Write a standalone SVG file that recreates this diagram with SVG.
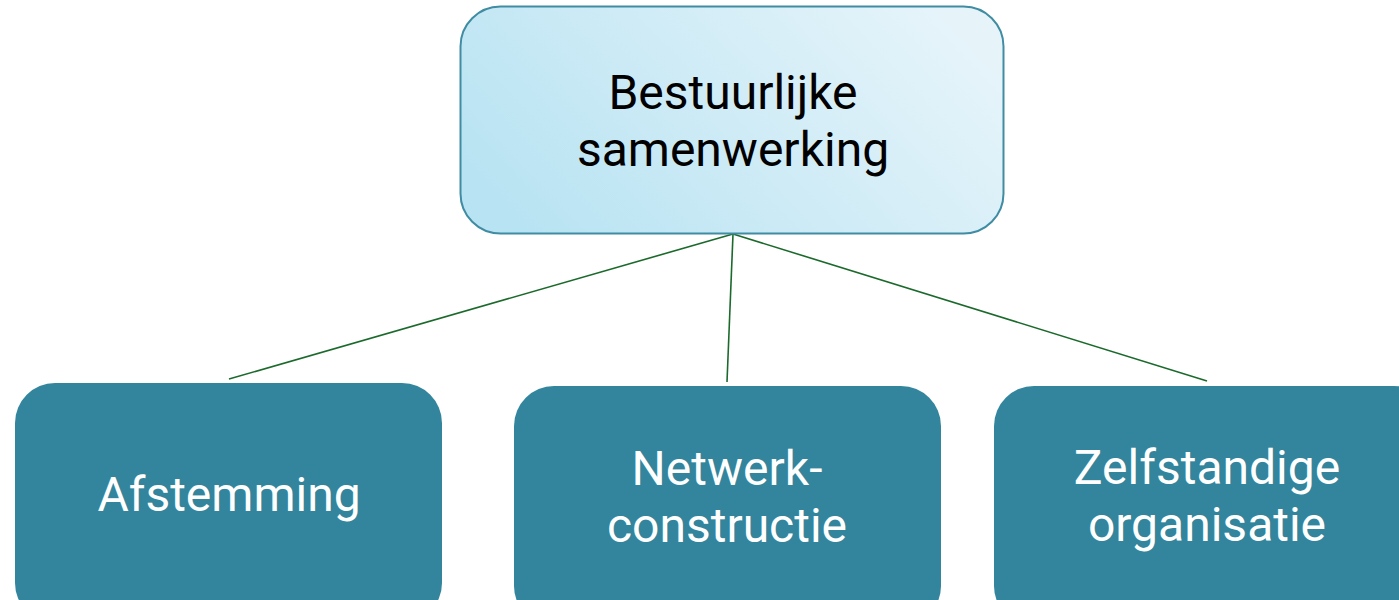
<svg xmlns="http://www.w3.org/2000/svg" width="1399" height="600" viewBox="0 0 1399 600">
<style>
.t{font-family:Roboto,"Liberation Sans",sans-serif;font-size:48px;text-anchor:middle}
.dark{fill:#000}
.light{fill:#ffffff}
.child{fill:#32859c}
.conn{stroke:#1b6a2c;stroke-width:1.6;fill:none}
</style>
<defs>
<linearGradient id="g" x1="0" y1="0.7" x2="1" y2="0.3">
<stop offset="0" stop-color="#b8e3f2"/>
<stop offset="1" stop-color="#e6f4fa"/>
</linearGradient>
</defs>
<rect width="1399" height="600" fill="#fff"/>
<g id="connectors">
<line class="conn" x1="733" y1="234" x2="229" y2="379"/>
<line class="conn" x1="733" y1="234" x2="727" y2="382"/>
<line class="conn" x1="733" y1="234" x2="1207" y2="381"/>
</g>
<g id="top">
<rect x="460.5" y="6.5" width="543" height="227" rx="40" fill="url(#g)" stroke="#3f8ca3" stroke-width="2"/>
<text class="t dark" x="733" y="109">Bestuurlijke</text>
<text class="t dark" x="733" y="166">samenwerking</text>
</g>
<g id="afstemming">
<rect class="child" x="15" y="383" width="427" height="240" rx="40"/>
<text class="t light" x="229" y="511">Afstemming</text>
</g>
<g id="netwerk">
<rect class="child" x="514" y="386" width="427" height="240" rx="40"/>
<text class="t light" x="727" y="485">Netwerk-</text>
<text class="t light" x="727" y="542">constructie</text>
</g>
<g id="zelfstandig">
<rect class="child" x="994" y="386" width="440" height="240" rx="40"/>
<text class="t light" x="1207" y="484">Zelfstandige</text>
<text class="t light" x="1207" y="541">organisatie</text>
</g>
</svg>
